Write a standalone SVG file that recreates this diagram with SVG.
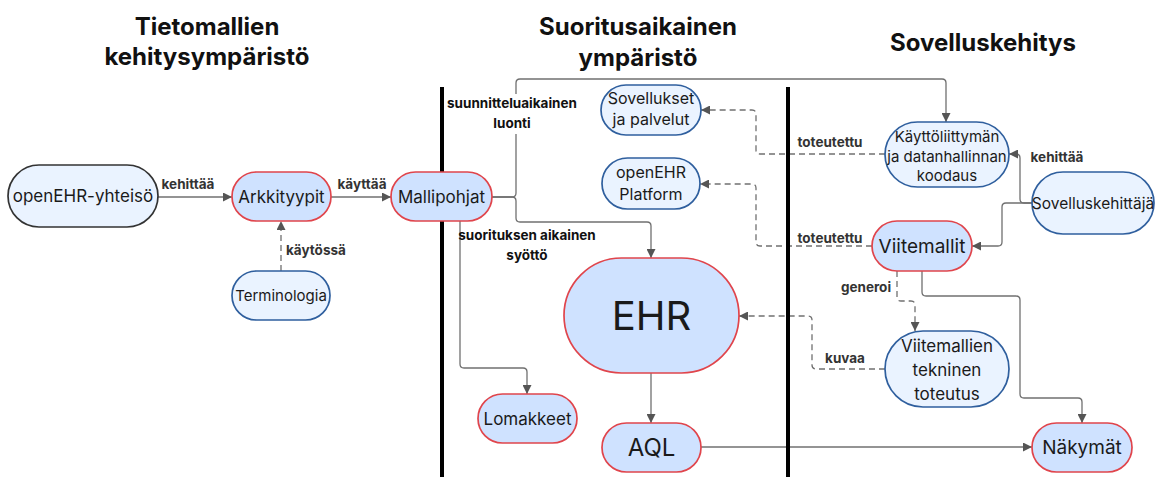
<svg xmlns="http://www.w3.org/2000/svg" width="1157" height="477" viewBox="0 0 1157 477">
<style>
text{font-family:Inter,"Noto Sans","Liberation Sans",sans-serif;fill:#1a1a1a}
.h{font-size:24px;font-weight:700;text-anchor:middle;fill:#111}
.n{font-size:16px;text-anchor:middle}
.blue{fill:#eaf3ff;stroke:#2f5f9e;stroke-width:1.7}
.red{fill:#cfe2ff;stroke:#e0454c;stroke-width:1.7}
.gray{fill:#eaf3ff;stroke:#333;stroke-width:1.7}
.c{fill:none;stroke:#707070;stroke-width:1.3}
.d{stroke-dasharray:6 4}
.el{font-size:13.5px;font-weight:700;fill:#333}
.ml{font-size:13.5px;font-weight:700;fill:#111;text-anchor:middle}
.sep{stroke:#000;stroke-width:4}
</style>
<defs>
<marker id="a" viewBox="0 0 10 10" refX="10" refY="5" markerWidth="9" markerHeight="9" markerUnits="userSpaceOnUse" orient="auto">
<path d="M0,0 L10,5 L0,10 z" fill="#555"/>
</marker>
</defs>
<rect width="1157" height="477" fill="#fff"/>
<g id="headers">
<text class="h" x="207" y="35">Tietomallien</text>
<text class="h" x="207" y="65">kehitysympäristö</text>
<text class="h" x="638" y="35">Suoritusaikainen</text>
<text class="h" x="638" y="66">ympäristö</text>
<text class="h" x="983" y="51">Sovelluskehitys</text>
</g>
<g id="connectors">
<path class="c" marker-end="url(#a)" d="M158,197 H232"/>
<path class="c" marker-end="url(#a)" d="M331,197 H391"/>
<path class="c d" marker-end="url(#a)" d="M281,271 V221"/>
<path class="c" marker-end="url(#a)" d="M492,197 H512 Q516,197 516,193 V83 Q516,79 520,79 H942 Q946,79 946,83 V122"/>
<path class="c" marker-end="url(#a)" d="M492,197 H512 Q516,197 516,201 V218 Q516,222 520,222 H647 Q651,222 651,226 V258"/>
<path class="c" marker-end="url(#a)" d="M460,221 V364 Q460,368 464,368 H523 Q527,368 527,372 V394"/>
<path class="c" marker-end="url(#a)" d="M651,373 V423"/>
<path class="c" marker-end="url(#a)" d="M701,447 H1032"/>
<path class="c" marker-end="url(#a)" d="M922,271 V292 Q922,296 926,296 H1016 Q1020,296 1020,300 V394 Q1020,398 1024,398 H1078 Q1082,398 1082,402 V423"/>
<path class="c d" marker-end="url(#a)" d="M897,271 V297 Q897,301 901,301 H911 Q915,301 915,305 V331"/>
<path class="c d" marker-end="url(#a)" d="M885,369 H816 Q812,369 812,365 V320 Q812,316 808,316 H739"/>
<path class="c" marker-end="url(#a)" d="M1032,203 H1024 Q1020,203 1020,199 V158 Q1020,154 1016,154 H1009"/>
<path class="c" marker-end="url(#a)" d="M1032,203 H1006 Q1002,203 1002,207 V242 Q1002,246 998,246 H972"/>
<path class="c d" marker-end="url(#a)" d="M885,154 H760 Q756,154 756,150 V114 Q756,110 752,110 H701"/>
<path class="c d" marker-end="url(#a)" d="M872,246 H760 Q756,246 756,242 V188 Q756,184 752,184 H700"/>
<rect x="448" y="94" width="130" height="40" fill="#fff"/>
<text class="ml" x="512" y="108">suunnitteluaikainen</text>
<text class="ml" x="512" y="128">luonti</text>
<text class="ml" x="527" y="240">suorituksen aikainen</text>
<text class="ml" x="527" y="260">syöttö</text>
<text class="el" x="188" y="189" text-anchor="middle">kehittää</text>
<text class="el" x="362" y="189" text-anchor="middle">käyttää</text>
<text class="el" x="286" y="255">käytössä</text>
<text class="el" x="830" y="147" text-anchor="middle">toteutettu</text>
<text class="el" x="830" y="243" text-anchor="middle">toteutettu</text>
<text class="el" x="1057" y="162" text-anchor="middle">kehittää</text>
<text class="el" x="866" y="292" text-anchor="middle">generoi</text>
<text class="el" x="845" y="363" text-anchor="middle">kuvaa</text>
</g>
<g id="separators">
<line class="sep" x1="442" y1="87" x2="442" y2="477"/>
<line class="sep" x1="788" y1="87" x2="788" y2="477"/>
</g>
<g id="openehr-yhteiso">
<rect class="gray" x="8" y="165" width="150" height="62" rx="31"/>
<text class="n" x="83" y="202" style="font-size:17px">openEHR-yhteisö</text>
</g>
<g id="arkkityypit">
<rect class="red" x="232" y="172" width="99" height="49" rx="24.5"/>
<text class="n" x="281.5" y="203" style="font-size:17px">Arkkityypit</text>
</g>
<g id="terminologia">
<rect class="blue" x="232" y="271" width="98" height="49" rx="24.5"/>
<text class="n" x="281" y="301" style="font-size:15px">Terminologia</text>
</g>
<g id="mallipohjat">
<rect class="red" x="391" y="172" width="101" height="49" rx="24.5"/>
<text class="n" x="441.5" y="203" style="font-size:17px">Mallipohjat</text>
</g>
<g id="sovellukset">
<rect class="blue" x="601" y="85" width="100" height="50" rx="25"/>
<text class="n" x="651" y="104">Sovellukset</text>
<text class="n" x="651" y="125">ja palvelut</text>
</g>
<g id="platform">
<rect class="blue" x="602" y="158" width="98" height="51" rx="25.5"/>
<text class="n" x="651" y="178">openEHR</text>
<text class="n" x="651" y="200">Platform</text>
</g>
<g id="ehr">
<rect class="red" x="564" y="258" width="175" height="115" rx="57.5"/>
<text class="n" x="651.5" y="330" style="font-size:40px">EHR</text>
</g>
<g id="lomakkeet">
<rect class="red" x="478" y="394" width="99" height="49" rx="24.5"/>
<text class="n" x="527.5" y="425" style="font-size:17px">Lomakkeet</text>
</g>
<g id="aql">
<rect class="red" x="602" y="423" width="99" height="49" rx="24.5"/>
<text class="n" x="651.5" y="456" style="font-size:24px">AQL</text>
</g>
<g id="kayttoliittyma">
<rect class="blue" x="885" y="122" width="124" height="65" rx="32.5"/>
<text class="n" x="947" y="142" style="font-size:15px">Käyttöliittymän</text>
<text class="n" x="947" y="162" style="font-size:15px">ja datanhallinnan</text>
<text class="n" x="947" y="181" style="font-size:15px">koodaus</text>
</g>
<g id="sovelluskehittaja">
<rect class="blue" x="1032" y="172" width="122" height="62" rx="31"/>
<text class="n" x="1093" y="209" style="font-size:15.5px">Sovelluskehittäjä</text>
</g>
<g id="viitemallit">
<rect class="red" x="872" y="221" width="100" height="50" rx="25"/>
<text class="n" x="922" y="253" style="font-size:19px">Viitemallit</text>
</g>
<g id="tekninen">
<rect class="blue" x="885" y="331" width="124" height="76" rx="38"/>
<text class="n" x="947" y="352" style="font-size:17px">Viitemallien</text>
<text class="n" x="947" y="376" style="font-size:17px">tekninen</text>
<text class="n" x="947" y="400" style="font-size:17px">toteutus</text>
</g>
<g id="nakymat">
<rect class="red" x="1032" y="423" width="100" height="49" rx="24.5"/>
<text class="n" x="1082" y="454" style="font-size:19px">Näkymät</text>
</g>
</svg>
